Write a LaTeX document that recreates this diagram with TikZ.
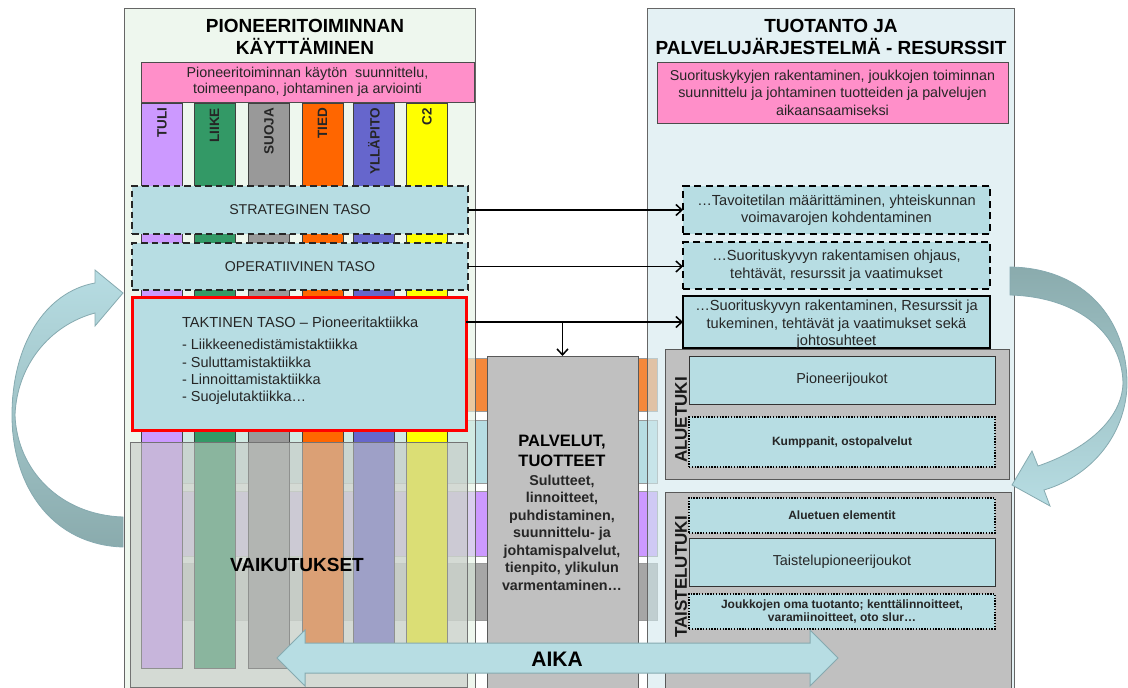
\documentclass[tikz,border=0pt]{standalone}
\usepackage{fontspec}
\setmainfont{Liberation Sans}
\usetikzlibrary{arrows.meta}
\definecolor{lvl}{HTML}{B7DDE3}
\definecolor{pinkc}{HTML}{FF8FC9}
\definecolor{leftbg}{RGB}{227,243,228}
\definecolor{rightbg}{RGB}{210,233,237}
\definecolor{tulic}{HTML}{CC99FF}
\definecolor{liikec}{HTML}{339966}
\definecolor{suojac}{HTML}{999999}
\definecolor{tiedc}{HTML}{FF6600}
\definecolor{yllc}{HTML}{6666CC}
\definecolor{ctwoc}{HTML}{FFFF00}
\definecolor{orangeband}{HTML}{F5883A}
\definecolor{purpleband}{HTML}{CC99FF}
\definecolor{grayband}{HTML}{A6A6A6}
\definecolor{boxgray}{HTML}{C0C0C0}
\definecolor{veil}{HTML}{C4C8C4}
\definecolor{arrlight}{HTML}{B7DDE3}
\definecolor{arrdark}{HTML}{8AABAD}
\definecolor{arredge}{HTML}{86AAB0}
\definecolor{txt}{HTML}{262626}

\tikzset{
  x=1pt, y=-1pt,
  every node/.style={inner sep=0pt, outer sep=0pt, text=txt},
  panelframe/.style={draw=black!60, line width=0.8pt},
  bandbox/.style={draw=black!40, line width=0.5pt},
  colbar/.style={draw=black!75, line width=0.7pt, minimum width=41pt, minimum height=565pt},
  collabel/.style={rotate=90, anchor=east, font=\bfseries\fontsize{13.5}{15}\selectfont},
  titletext/.style={align=center, font=\bfseries\fontsize{19}{22}\selectfont, text=black},
  pinkbox/.style={fill=pinkc, draw=black!70, line width=0.8pt, align=center},
  levelbox/.style={fill=lvl, draw=black!85, line width=1.4pt, dash pattern=on 6.5pt off 4pt, font=\fontsize{14.2}{17}\selectfont, minimum width=336pt},
  tactbox/.style={fill=lvl, draw=red, line width=3pt},
  veilbox/.style={fill=veil, fill opacity=0.6, draw=black!55, line width=0.7pt},
  graybox/.style={fill=boxgray, draw=black!65, line width=0.8pt},
  rdashbox/.style={fill=lvl, draw=black, line width=2pt, dash pattern=on 7pt off 4.5pt, align=center, font=\fontsize{14.6}{17.5}\selectfont, minimum width=307pt},
  rsolidbox/.style={fill=lvl, draw=black, line width=2pt, align=center, font=\fontsize{14.6}{17.5}\selectfont, minimum width=307pt},
  innerbox/.style={fill=lvl, draw=black!80, line width=0.9pt, minimum width=306pt, font=\fontsize{14.4}{17}\selectfont},
  dotbox/.style={fill=lvl, draw=black, line width=1.5pt, dash pattern=on 1.4pt off 1.4pt, minimum width=306pt, align=center, font=\bfseries\fontsize{12}{13.5}\selectfont},
  sidelabel/.style={rotate=90, font=\bfseries\fontsize{17}{19}\selectfont, text=black!90},
  conn/.style={draw=black, line width=1.5pt, -{Straight Barb[length=6pt,width=11pt]}},
  aikaarrow/.style={fill=lvl, draw=arredge, line width=1pt},
  curvearrow/.style={draw=arredge, line width=0.8pt},
}

\begin{document}
\begin{tikzpicture}
\useasboundingbox (0,0) rectangle (1128,688);
\clip (0,0) rectangle (1128,688);
\fill[white] (0,0) rectangle (1128,688);

% background bands
\draw[bandbox, fill=orangeband] (160,358) rectangle (657,411);
\draw[bandbox, fill=lvl] (160,420) rectangle (657,483);
\draw[bandbox, fill=purpleband] (160,491) rectangle (657,556);
\draw[bandbox, fill=grayband] (160,563) rectangle (657,620);

% panels
\draw[panelframe, fill=leftbg, fill opacity=0.6] (124,8) rectangle (475,700);
\draw[panelframe, fill=rightbg, fill opacity=0.6] (647,8) rectangle (1014,700);

% titles
\node[titletext] (lefttitle) at (305,37) {PIONEERITOIMINNAN\\KÄYTTÄMINEN};
\node[titletext] (righttitle) at (831,36.5) {TUOTANTO JA\\PALVELUJÄRJESTELMÄ - RESURSSIT};

% pink boxes
\node[pinkbox, minimum width=333pt, minimum height=40pt, font=\fontsize{14.3}{16}\selectfont] (leftpink) at (307.5,82) {Pioneeritoiminnan käytön\ \ suunnittelu,\\toimeenpano, johtaminen ja arviointi};
\node[pinkbox, minimum width=351pt, minimum height=61pt, font=\fontsize{14.3}{17.5}\selectfont] (rightpink) at (832.5,92.5) {Suorituskykyjen rakentaminen, joukkojen toiminnan\\suunnittelu ja johtaminen tuotteiden ja palvelujen\\aikaansaamiseksi};

% columns
\node[colbar, fill=tulic] (tuli) at (162,385.5) {};
\node[colbar, fill=liikec] (liike) at (214.5,385.5) {};
\node[colbar, fill=suojac] (suoja) at (269,385.5) {};
\node[colbar, fill=tiedc] (tied) at (322.5,385.5) {};
\node[colbar, fill=yllc] (yllapito) at (374,385.5) {};
\node[colbar, fill=ctwoc] (ctwo) at (427,385.5) {};
\node[collabel] (tulilabel) at (162,108) {TULI};
\node[collabel] (liikelabel) at (214.5,108) {LIIKE};
\node[collabel] (suojalabel) at (269,108) {SUOJA};
\node[collabel] (tiedlabel) at (322.5,108) {TIED};
\node[collabel] (yllapitolabel) at (374,108) {YLLÄPITO};
\node[collabel] (ctwolabel) at (427,108) {C2};

% levels
\node[levelbox, minimum height=48pt] (strat) at (300,210) {STRATEGINEN TASO};
\node[levelbox, minimum height=47pt] (oper) at (300,266.5) {OPERATIIVINEN TASO};
\node[tactbox, minimum width=334pt, minimum height=133pt] (takt) at (299,363.5) {};
\node[anchor=west, font=\fontsize{14.6}{17}\selectfont] (takttitle) at (182,322) {TAKTINEN TASO – Pioneeritaktiikka};
\node[anchor=west, align=left, font=\fontsize{14.5}{17.4}\selectfont] (taktlist) at (182,372) {- Liikkeenedistämistaktiikka\\- Suluttamistaktiikka\\- Linnoittamistaktiikka\\- Suojelutaktiikka…};

% effects veil
\node[veilbox, minimum width=337pt, minimum height=245pt] (vaik) at (298.5,564.5) {};
\node[font=\bfseries\fontsize{19}{21}\selectfont, text=black] (vaiktext) at (297,565) {VAIKUTUKSET};

% services box
\node[graybox, minimum width=151pt, minimum height=344pt] (palv) at (562.5,528) {};
\node[align=center, font=\bfseries\fontsize{16.5}{20}\selectfont, text=black] (palvtitle) at (562,451) {PALVELUT,\\TUOTTEET};
\node[align=center, font=\bfseries\fontsize{14.3}{17.5}\selectfont] (palvbody) at (562,532.5) {Sulutteet,\\linnoitteet,\\puhdistaminen,\\suunnittelu- ja\\johtamispalvelut,\\tienpito, ylikulun\\varmentaminen…};

% right side boxes
\node[rdashbox, minimum height=48pt] (r1) at (836.5,210) {…Tavoitetilan määrittäminen, yhteiskunnan\\voimavarojen kohdentaminen};
\node[rdashbox, minimum height=47pt] (r2) at (836.5,265.5) {…Suorituskyvyn rakentamisen ohjaus,\\tehtävät, resurssit ja vaatimukset};
\node[rsolidbox, minimum height=52pt] (r3) at (836.5,322) {};
\node[align=center, font=\fontsize{14.6}{17.5}\selectfont] (r3text) at (836.5,324.5) {…Suorituskyvyn rakentaminen, Resurssit ja\\tukeminen, tehtävät ja vaatimukset sekä\\johtosuhteet};

\node[graybox, minimum width=344pt, minimum height=130pt] (alue) at (837,414) {};
\node[sidelabel] (aluelabel) at (681,420) {ALUETUKI};
\node[innerbox, minimum height=48pt] (pion) at (842,380) {Pioneerijoukot};
\node[dotbox, minimum height=50pt] (kump) at (842,442) {Kumppanit, ostopalvelut};

\node[graybox, minimum width=346pt, minimum height=208pt] (taist) at (838,596) {};
\node[sidelabel] (taistlabel) at (681,577) {TAISTELUTUKI};
\node[dotbox, minimum height=35pt] (aluel) at (842,515.5) {Aluetuen elementit};
\node[innerbox, minimum height=48pt] (tpion) at (842,562) {Taistelupioneerijoukot};
\node[dotbox, minimum height=35pt] (oma) at (842,611.5) {Joukkojen oma tuotanto; kenttälinnoitteet,\\varamiinoitteet, oto slur…};

% connectors
\draw[conn] (strat.east) -- (r1.west);
\draw[conn] (oper.east) -- (oper.east -| r1.west);
\coordinate (tk) at (takt.east |- r3.west);
\draw[conn] (tk) -- (r3.west);
\coordinate (tkdown) at (palv.north |- r3.west);
\draw[conn] (tkdown) -- (palv.north);

% time arrow
\draw[aikaarrow] (277,658) -- (305,630) -- (305,643) -- (810,643) -- (810,630) -- (838,658) -- (810,686) -- (810,673) -- (305,673) -- (305,686) -- cycle;
\node[font=\bfseries\fontsize{21}{24}\selectfont, text=black] (aika) at (557,659) {AIKA};

% curved arrows
\draw[curvearrow, top color=arrlight, bottom color=arrdark] (123,547) .. controls (55,545) and (12,490) .. (12,415) .. controls (12,345) and (45,292) .. (95,283) -- (95,270) -- (123,293) -- (95,326) -- (95,313) .. controls (50,325) and (17,365) .. (15,415) .. controls (17,470) and (60,515) .. (123,517) -- cycle;
\draw[curvearrow, top color=arrdark, bottom color=arrlight] (1010,267) .. controls (1085,268) and (1127,320) .. (1127,383) .. controls (1127,430) and (1095,475) .. (1044,490) -- (1050,506) -- (1012,485) -- (1032,451) -- (1038,466) .. controls (1085,450) and (1122,420) .. (1123,383) .. controls (1122,335) and (1080,297) .. (1010,295) -- cycle;
\end{tikzpicture}
\end{document}
